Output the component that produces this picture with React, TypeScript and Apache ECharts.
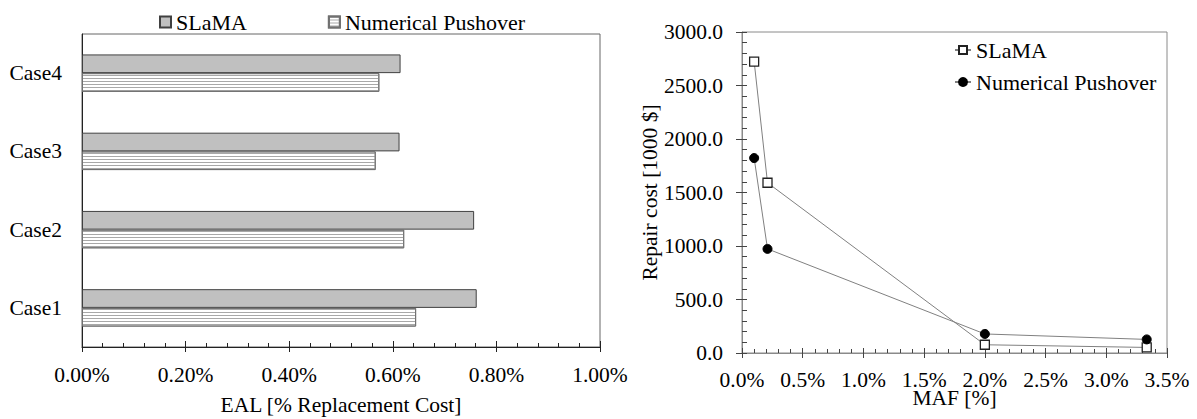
import React, { useEffect, useRef } from "react";
import * as echarts from "echarts";

const cases = ["Case1", "Case2", "Case3", "Case4"];
const ealSlama = [0.762, 0.757, 0.613, 0.615];
const ealPushover = [0.645, 0.622, 0.567, 0.574];

const mafSlama = [0.1, 0.21, 2.0, 3.333];
const costSlama = [2724, 1591, 77, 52];
const mafPushover = [0.1, 0.21, 2.0, 3.333];
const costPushover = [1822, 973, 178, 127];

const FONT = "Liberation Serif";
const FS = 21.5;

function LeftChart() {
  const ref = useRef<HTMLDivElement>(null);
  useEffect(() => {
    const chart = echarts.init(ref.current!, null, { renderer: "svg" });
    const labelStyle = { fontFamily: FONT, fontSize: FS, color: "#000" };
    chart.setOption({
      animation: false,
      textStyle: { fontFamily: FONT },
      legend: {
        left: 154,
        top: 6,
        icon: "rect",
        itemWidth: 11,
        itemHeight: 11,
        itemGap: 81,
        textStyle: { fontFamily: FONT, fontSize: 22, color: "#000" },
        data: ["SLaMA", "Numerical Pushover"],
      },
      grid: {
        left: 82,
        right: 30,
        top: 34,
        bottom: 72,
        containLabel: false,
        outerBoundsMode: "none",
        show: true,
        borderColor: "#666",
        borderWidth: 1,
      },
      xAxis: [
        {
          type: "value",
          min: 0,
          max: 1,
          interval: 0.2,
          name: "EAL [% Replacement Cost]",
          nameLocation: "middle",
          nameGap: 47,
          nameMoveOverlap: false,
          nameTextStyle: labelStyle,
          axisLine: { show: true, lineStyle: { color: "#222" } },
          axisTick: { show: true, inside: true, length: 6, lineStyle: { color: "#222" } },
          minorTick: { show: true, splitNumber: 5, length: 4, lineStyle: { color: "#222" } },
          splitLine: { show: false },
          axisLabel: {
            ...labelStyle,
            margin: 17,
            formatter: (v: number) => v.toFixed(2) + "%",
          },
        },
        {
          type: "value",
          min: 0,
          max: 1,
          interval: 0.2,
          position: "bottom",
          axisLine: { show: false },
          axisTick: { show: true, inside: false, length: 5, lineStyle: { color: "#222" } },
          axisLabel: { show: false },
          splitLine: { show: false },
        },
      ],
      yAxis: {
        type: "category",
        data: cases,
        axisLine: { show: true, lineStyle: { color: "#222" } },
        axisTick: { show: false },
        axisLabel: { ...labelStyle, margin: 20 },
      },
      series: [
        {
          name: "SLaMA",
          type: "bar",
          data: ealSlama,
          barWidth: 18.7,
          barGap: "0%",
          itemStyle: { color: "#c0c0c0", borderColor: "#404040", borderWidth: 1 },
        },
        {
          name: "Numerical Pushover",
          type: "bar",
          data: ealPushover,
          barWidth: 18.7,
          barGap: "0%",
          itemStyle: {
            color: "#ffffff",
            borderColor: "#707070",
            borderWidth: 1,
            decal: {
              symbol: "rect",
              symbolSize: 1,
              color: "#a8a8a8",
              dashArrayX: [4, 0],
              dashArrayY: [1, 2],
              rotation: 0,
            },
          },
        },
      ],
    });
    return () => chart.dispose();
  }, []);
  return <div ref={ref} style={{ position: "absolute", left: 0, top: 0, width: 630, height: 419 }} />;
}

function RightChart() {
  const ref = useRef<HTMLDivElement>(null);
  useEffect(() => {
    const chart = echarts.init(ref.current!, null, { renderer: "svg" });
    const labelStyle = { fontFamily: FONT, fontSize: FS, color: "#000" };
    const gray = "#8a8a8a";
    chart.setOption({
      animation: false,
      textStyle: { fontFamily: FONT },
      legend: {
        orient: "vertical",
        left: 319,
        top: 34,
        itemWidth: 16,
        itemHeight: 10,
        itemGap: 10,
        textStyle: { fontFamily: FONT, fontSize: 22, color: "#000" },
        data: ["SLaMA", "Numerical Pushover"],
      },
      grid: {
        left: 112,
        right: 30,
        top: 32,
        bottom: 66,
        containLabel: false,
        outerBoundsMode: "none",
        show: true,
        borderColor: gray,
        borderWidth: 1,
      },
      xAxis: [
        {
          type: "value",
          min: 0,
          max: 3.5,
          interval: 0.5,
          name: "MAF [%]",
          nameLocation: "middle",
          nameGap: 34,
          nameMoveOverlap: false,
          nameTextStyle: labelStyle,
          axisLine: { show: true, lineStyle: { color: gray } },
          axisTick: { show: true, inside: true, length: 5, lineStyle: { color: "#444" } },
          minorTick: { show: true, splitNumber: 5, length: 4, lineStyle: { color: "#444" } },
          splitLine: { show: false },
          axisLabel: {
            ...labelStyle,
            margin: 16,
            formatter: (v: number) => v.toFixed(1) + "%",
          },
        },
        {
          type: "value",
          min: 0,
          max: 3.5,
          interval: 0.5,
          position: "bottom",
          axisLine: { show: false },
          axisTick: { show: true, inside: false, length: 5, lineStyle: { color: "#444" } },
          axisLabel: { show: false },
          splitLine: { show: false },
        },
      ],
      yAxis: [
        {
          type: "value",
          min: 0,
          max: 3000,
          interval: 500,
          name: "Repair cost [1000 $]",
          nameLocation: "middle",
          nameRotate: 90,
          nameGap: 81,
          nameMoveOverlap: false,
          nameTextStyle: labelStyle,
          axisLine: { show: true, lineStyle: { color: gray } },
          axisTick: { show: true, inside: false, length: 6, lineStyle: { color: "#444" } },
          minorTick: { show: false },
          splitLine: { show: false },
          axisLabel: {
            ...labelStyle,
            margin: 19,
            formatter: (v: number) => v.toFixed(1),
          },
        },
        {
          type: "value",
          min: 0,
          max: 3000,
          interval: 500,
          position: "left",
          axisLine: { show: false },
          axisTick: { show: true, inside: true, length: 5, lineStyle: { color: "#444" } },
          minorTick: { show: true, splitNumber: 5, length: 5, lineStyle: { color: "#444" } },
          axisLabel: { show: false },
          splitLine: { show: false },
        },
      ],
      series: [
        {
          name: "SLaMA",
          type: "line",
          data: mafSlama.map((x, i) => [x, costSlama[i]]),
          symbol: "rect",
          symbolSize: 9,
          lineStyle: { color: "#808080", width: 1 },
          itemStyle: { color: "#ffffff", borderColor: "#222", borderWidth: 1.3 },
        },
        {
          name: "Numerical Pushover",
          type: "line",
          data: mafPushover.map((x, i) => [x, costPushover[i]]),
          symbol: "circle",
          symbolSize: 9,
          lineStyle: { color: "#808080", width: 1 },
          itemStyle: { color: "#000", borderColor: "#000", borderWidth: 1 },
        },
      ],
    });
    return () => chart.dispose();
  }, []);
  return <div ref={ref} style={{ position: "absolute", left: 630, top: 0, width: 567, height: 419 }} />;
}

export default function App() {
  return (
    <div style={{ position: "fixed", left: 0, top: 0, width: 1197, height: 419, background: "#fff" }}>
      <LeftChart />
      <RightChart />
    </div>
  );
}
